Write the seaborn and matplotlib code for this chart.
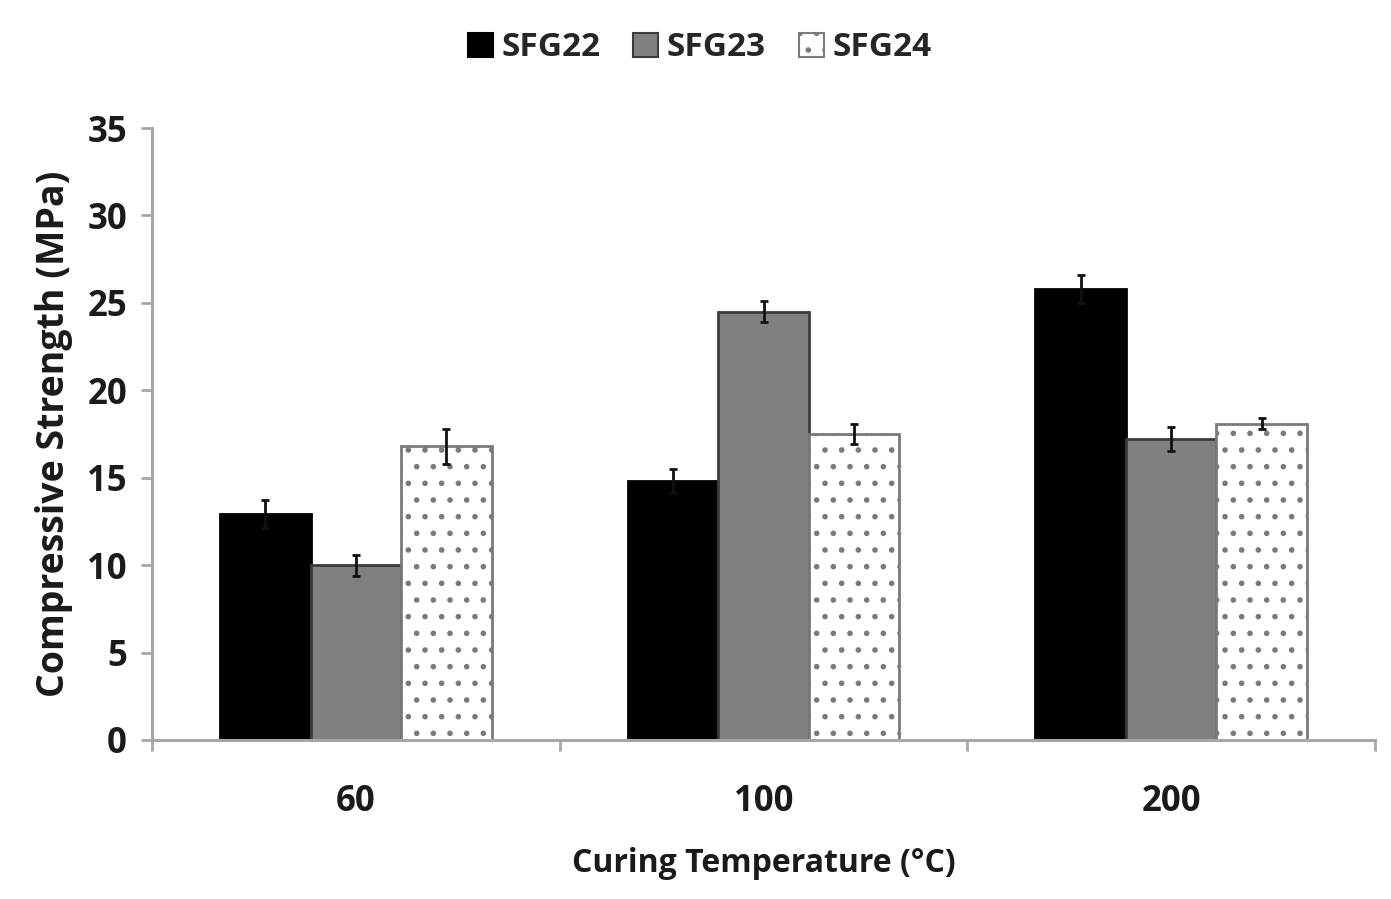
import numpy as np
import pandas as pd
import matplotlib
matplotlib.use("Agg")
import matplotlib.pyplot as plt
import seaborn as sns
from matplotlib.patches import Patch
from matplotlib.ticker import FixedLocator

# Curing temperatures (°C) and mix series
temperatures = ["60", "100", "200"]
series = ["SFG22", "SFG23", "SFG24"]

# Mean compressive strength (MPa) per series, ordered by temperature
sfg22_mean = [12.9, 14.8, 25.8]
sfg23_mean = [10.0, 24.5, 17.2]
sfg24_mean = [16.8, 17.5, 18.1]

# Standard deviation (MPa)
sfg22_err = [0.8, 0.7, 0.8]
sfg23_err = [0.6, 0.6, 0.7]
sfg24_err = [1.0, 0.6, 0.3]

means = {"SFG22": sfg22_mean, "SFG23": sfg23_mean, "SFG24": sfg24_mean}
errs = {"SFG22": sfg22_err, "SFG23": sfg23_err, "SFG24": sfg24_err}

df = pd.DataFrame(
    [(t, s, means[s][i]) for s in series for i, t in enumerate(temperatures)],
    columns=["Temperature", "Series", "Strength"],
)

sns.set_theme(style="white")
plt.rcParams["font.family"] = ["Open Sans", "DejaVu Sans"]
plt.rcParams["font.weight"] = "bold"
plt.rcParams["hatch.linewidth"] = 1.6

fig = plt.figure(figsize=(13.91, 8.99), dpi=100)
ax = fig.add_axes([0.1093, 0.1769, 0.8792, 0.6807])

face = {"SFG22": "#000000", "SFG23": "#808080", "SFG24": "#ffffff"}
edge = {"SFG22": "#000000", "SFG23": "#3c3c3c", "SFG24": "#7a7a7a"}
text_col = "#1a1a1a"

sns.barplot(
    data=df, x="Temperature", y="Strength", hue="Series",
    order=temperatures, hue_order=series,
    palette=face, width=0.667, errorbar=None, legend=False,
    saturation=1, ax=ax,
)

for cont, s in zip(ax.containers, series):
    xs = []
    for bar in cont:
        bar.set_edgecolor(edge[s])
        bar.set_linewidth(2)
        if s == "SFG24":
            bar.set_hatch(".")
        xs.append(bar.get_x() + bar.get_width() / 2)
    ax.errorbar(xs, means[s], yerr=errs[s], fmt="none", ecolor="#111111",
                elinewidth=2, capsize=3, capthick=2, zorder=5)

ax.set_ylim(0, 35)
ax.set_xlim(-0.5, 2.5)
ax.set_yticks(np.arange(0, 36, 5))

spine_col = "#a6a6a6"
for side in ["top", "right"]:
    ax.spines[side].set_visible(False)
for side in ["left", "bottom"]:
    ax.spines[side].set_color(spine_col)
    ax.spines[side].set_linewidth(2.2)

ax.xaxis.set_minor_locator(FixedLocator([-0.5, 0.5, 1.5, 2.5]))
ax.tick_params(axis="x", which="major", length=0, pad=32, labelsize=25, colors=text_col)
ax.tick_params(axis="x", which="minor", length=8, width=2, color=spine_col, direction="out", bottom=True)
ax.tick_params(axis="y", which="major", length=8, width=2, color=spine_col, direction="out",
               left=True, labelsize=25, labelcolor=text_col, pad=10)

ax.set_xlabel("Curing Temperature (°C)", fontsize=23, fontweight="bold", color=text_col, labelpad=19)
ax.set_ylabel("Compressive Strength (MPa)", fontsize=27, fontweight="bold", color=text_col, labelpad=10)

handles = []
for s in series:
    h = Patch(facecolor=face[s], edgecolor=edge[s], linewidth=1.5,
              hatch=("." if s == "SFG24" else None))
    handles.append(h)
fig.legend(handles, series, loc="center", bbox_to_anchor=(0.503, 1 - 48 / 899), ncol=3,
           frameon=False, handlelength=0.75, handleheight=0.75,
           handletextpad=0.25, columnspacing=1.0, prop={"weight": "bold", "size": 24})

fig.savefig("out.png", dpi=100, facecolor="white")
